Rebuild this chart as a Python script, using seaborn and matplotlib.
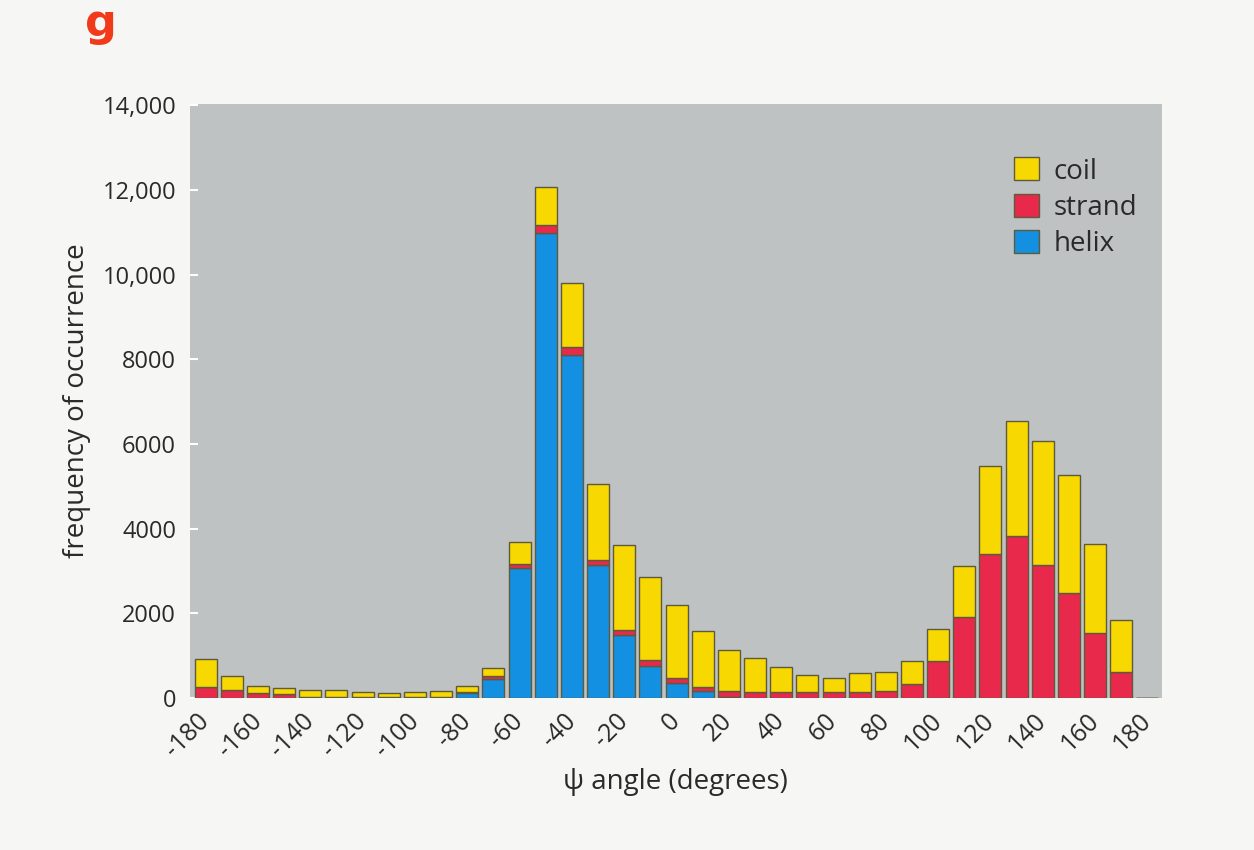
import numpy as np
import pandas as pd
import matplotlib
matplotlib.use("Agg")
import matplotlib.pyplot as plt
from matplotlib.patches import Patch
import seaborn as sns

# ---- data ----
angles = list(range(-180, 181, 10))
helix = [0, 0, 0, 0, 0, 0, 0, 0, 0, 0, 120, 450, 3070, 10970, 8100, 3130, 1480, 760, 350,
         160, 30, 0, 0, 0, 0, 0, 0, 0, 0, 0, 0, 0, 0, 0, 0, 0, 0]
strand = [270, 190, 110, 90, 30, 30, 20, 15, 15, 20, 15, 80, 100, 210, 200, 140, 130, 135, 125,
          110, 130, 140, 140, 150, 150, 135, 170, 330, 880, 1915, 3410, 3820, 3140, 2490, 1525, 620, 0]
coil = [650, 320, 180, 140, 165, 165, 130, 105, 120, 155, 150, 180, 510, 890, 1510, 1795, 1995, 1955, 1715,
        1310, 980, 800, 585, 395, 330, 455, 435, 540, 755, 1195, 2080, 2720, 2920, 2765, 2120, 1225, 0]
x_ticks = list(range(-180, 181, 20))
y_ticks = [0, 2000, 4000, 6000, 8000, 10000, 12000, 14000]
y_tick_labels = ["0", "2000", "4000", "6000", "8000", "10,000", "12,000", "14,000"]
legend_order = ["coil", "strand", "helix"]
colors = {"coil": "#F7D800", "strand": "#E8294B", "helix": "#1390E2"}

df = pd.concat([
    pd.DataFrame({"angle": angles, "count": helix, "ss": "helix"}),
    pd.DataFrame({"angle": angles, "count": strand, "ss": "strand"}),
    pd.DataFrame({"angle": angles, "count": coil, "ss": "coil"}),
], ignore_index=True)

sns.set_style("white")
plt.rcParams["font.family"] = ["Open Sans", "DejaVu Sans"]

fig = plt.figure(figsize=(12.54, 8.5), dpi=100)
fig.patch.set_facecolor("#F6F6F4")
ax = fig.add_axes([0.1515, 0.1788, 0.775, 0.699])
ax.set_facecolor("#BEC2C3")

# seaborn stacks the first hue level on top -> coil on top, helix at the bottom
sns.histplot(data=df, x="angle", weights="count", hue="ss", hue_order=legend_order,
             multiple="stack", binwidth=10, binrange=(-185, 185), shrink=0.84,
             palette=colors, edgecolor="#5E5A3E", linewidth=1.0, alpha=1,
             legend=False, ax=ax)

ax.set_xlim(-186, 185.5)
ax.set_ylim(0, 14030)
for s in ax.spines.values():
    s.set_visible(False)

ax.set_yticks(y_ticks)
ax.set_yticklabels(y_tick_labels, fontsize=17, color="#2a2a2a")
ax.tick_params(axis="y", direction="in", length=6, width=1.5, color="white", pad=10, left=True)
ax.set_xticks(x_ticks)
ax.set_xticklabels([str(v) for v in x_ticks], fontsize=18, color="#2a2a2a",
                   rotation=45, ha="right", va="center", rotation_mode="anchor")
ax.tick_params(axis="x", length=0, pad=14)

ax.set_ylabel("frequency of occurrence", fontsize=20, color="#2a2a2a", labelpad=8)
ax.set_xlabel("ψ angle (degrees)", fontsize=20, color="#2a2a2a", labelpad=4)

handles = [Patch(facecolor=colors[c], edgecolor="#5E5A3E", label=c) for c in legend_order]
leg = ax.legend(handles=handles, loc="upper right", bbox_to_anchor=(1.0, 0.952), frameon=False,
                fontsize=20, handlelength=0.9, handleheight=0.9, handletextpad=0.5,
                labelspacing=0.3, borderpad=0.4)
for t in leg.get_texts():
    t.set_color("#2a2a2a")

fig.text(0.068, 0.998, "g", color="#F03A1A", fontsize=32, fontweight="bold",
         family=["DejaVu Sans"], va="top", ha="left")

fig.savefig("out.png", dpi=100, facecolor=fig.get_facecolor())
